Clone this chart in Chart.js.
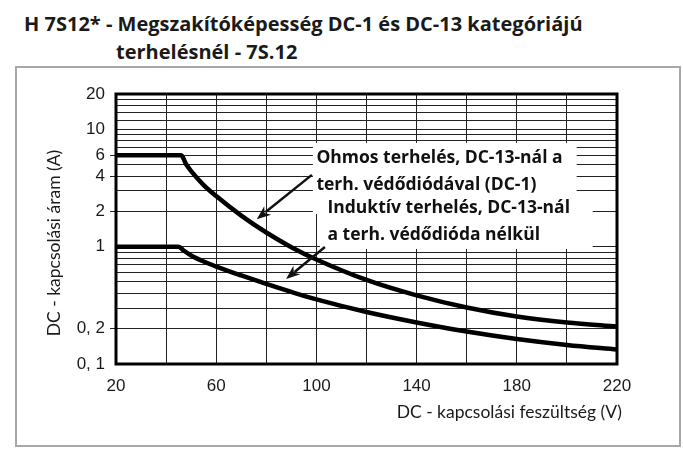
<!DOCTYPE html>
<html><head><meta charset="utf-8">
<script src="https://cdn.jsdelivr.net/npm/chart.js@4.4.1/dist/chart.umd.min.js"></script>
<style>
html,body{margin:0;padding:0;background:#fff;width:683px;height:450px;overflow:hidden}
#frame{position:absolute;left:15px;top:65.5px;width:666px;height:381px;border:2.5px solid #a8a8a8;box-sizing:border-box}
.t{position:absolute;font-family:"Open Sans",Lato,sans-serif;font-weight:700;font-size:20px;line-height:22px;color:#1a1a1a;white-space:nowrap}
#c{position:absolute;left:0;top:0}
</style></head>
<body>
<div class="t" style="left:24px;top:12.6px">H 7S12* - Megszakítóképesség DC-1 és DC-13 kategóriájú</div>
<div class="t" style="left:116px;top:40.9px">terhelésnél - 7S.12</div>
<div id="frame"></div>
<canvas id="c" width="683" height="450"></canvas>
<script>
// ---- data ----
const ohmX = [20, 30, 40, 46, 48, 50, 55, 60, 70, 80, 90, 100, 120, 140, 160, 180, 200, 220];
const ohmY = [6, 6, 6, 6, 5.04, 4.41, 3.35, 2.70, 1.84, 1.32, 0.99, 0.777, 0.52, 0.384, 0.303, 0.254, 0.226, 0.209];
const indX = [20, 30, 40, 45, 47, 50, 55, 60, 70, 80, 90, 100, 120, 140, 160, 180, 200, 220];
const indY = [1, 1, 1, 1, 0.927, 0.841, 0.747, 0.677, 0.568, 0.481, 0.411, 0.355, 0.2775, 0.226, 0.189, 0.1633, 0.1452, 0.1329];

const xLabelValues = [20, 60, 100, 140, 180, 220];
const yGridValues = [0.1,0.2,0.3,0.4,0.5,0.6,0.7,0.8,0.9,1,2,3,4,5,6,7,8,9,10,12,14,16,18,20];
const yLabelValues = [0.1, 0.2, 1, 2, 4, 6, 10, 20];
const yLabelTexts  = ['0, 1', '0, 2', '1', '2', '4', '6', '10', '20'];
const yTickMarkValues = [0.2, 2, 4, 6];

const xTitle = 'DC - kapcsolási feszültség (V)';
const yTitle = 'DC - kapcsolási áram (A)';
const noteOhm = ['Ohmos terhelés, DC-13-nál a', 'terh. védődiódával (DC-1)'];
const noteInd = ['Induktív terhelés, DC-13-nál', 'a terh. védődióda nélkül'];
// annotation anchors in data units
const noteOhmPos = [100, 5.14];
const noteIndPos = [104.4, 1.93];
const boxOhm = [98.6, 7.66, 203.9, 1.90];
const boxInd = [101.4, 2.50, 210.3, 0.956];
const arrowOhm = [98.2, 4.09, 76.2, 1.713];
const arrowInd = [103.4, 0.994, 87.9, 0.53];

const toPts = (xs, ys) => xs.map((x, i) => ({x, y: ys[i]}));
const TXT = '#1a1a1a';

function arrow(ctx, x1, y1, x2, y2) {
  ctx.save();
  ctx.strokeStyle = '#111'; ctx.fillStyle = '#111'; ctx.lineWidth = 2.5;
  const a = Math.atan2(y2 - y1, x2 - x1);
  const L = 14, W = 5.5;
  const bx = x2 - L * Math.cos(a), by = y2 - L * Math.sin(a);
  ctx.beginPath(); ctx.moveTo(x1, y1);
  ctx.lineTo(x2 - (L - 3) * Math.cos(a), y2 - (L - 3) * Math.sin(a)); ctx.stroke();
  ctx.beginPath();
  ctx.moveTo(x2, y2);
  ctx.lineTo(bx + W * Math.sin(a), by - W * Math.cos(a));
  ctx.lineTo(x2 - (L - 4) * Math.cos(a), y2 - (L - 4) * Math.sin(a));
  ctx.lineTo(bx - W * Math.sin(a), by + W * Math.cos(a));
  ctx.closePath(); ctx.fill();
  ctx.restore();
}

const annoPlugin = {
  id: 'anno',
  beforeDatasetsDraw(chart) {
    const {ctx, scales: {x, y}} = chart;
    ctx.save(); ctx.fillStyle = '#fff';
    [boxOhm, boxInd].forEach(b => {
      const l = x.getPixelForValue(b[0]), t = y.getPixelForValue(b[1]);
      const r = x.getPixelForValue(b[2]), bt = y.getPixelForValue(b[3]);
      ctx.fillRect(l, t, r - l, bt - t);
    });
    ctx.restore();
  },
  afterDatasetsDraw(chart) {
    const {ctx, chartArea: ca, scales: {x, y}} = chart;
    ctx.save();
    ctx.strokeStyle = '#000'; ctx.lineWidth = 3;
    ctx.strokeRect(ca.left, ca.top, ca.right - ca.left, ca.bottom - ca.top);
    [arrowOhm, arrowInd].forEach(a => arrow(ctx,
      x.getPixelForValue(a[0]), y.getPixelForValue(a[1]),
      x.getPixelForValue(a[2]), y.getPixelForValue(a[3])));
    ctx.fillStyle = '#111';
    ctx.font = 'bold 17.5px "Open Sans", Lato, sans-serif';
    ctx.textBaseline = 'alphabetic'; ctx.textAlign = 'left';
    [[noteOhm, noteOhmPos], [noteInd, noteIndPos]].forEach(([lines, p]) => {
      const px = x.getPixelForValue(p[0]), py = y.getPixelForValue(p[1]);
      lines.forEach((s, i) => ctx.fillText(s, px, py + i * 26.5));
    });
    // axis titles
    ctx.fillStyle = TXT;
    ctx.font = '17.5px Lato, sans-serif';
    ctx.textAlign = 'right'; ctx.textBaseline = 'middle';
    ctx.fillText(xTitle, ca.right + 5, ca.bottom + 48);
    ctx.translate(ca.left - 62, (ca.top + ca.bottom) / 2 + 14);
    ctx.rotate(-Math.PI / 2);
    ctx.textAlign = 'center';
    ctx.fillText(yTitle, 0, 0);
    ctx.restore();
  }
};

new Chart(document.getElementById('c'), {
  type: 'line',
  data: {
    datasets: [
      {data: toPts(ohmX, ohmY), borderColor: '#000', borderWidth: 4.5, pointRadius: 0, cubicInterpolationMode: 'monotone', fill: false},
      {data: toPts(indX, indY), borderColor: '#000', borderWidth: 4.5, pointRadius: 0, cubicInterpolationMode: 'monotone', fill: false}
    ]
  },
  options: {
    responsive: false, animation: false,
    layout: {padding: {left: 0, top: 94, right: 66, bottom: 0}},
    plugins: {legend: {display: false}, tooltip: {enabled: false}},
    scales: {
      x: {
        type: 'linear', min: 20, max: 220,
        afterFit: s => { s.height = 86; },
        border: {display: false},
        grid: {color: '#222', lineWidth: 1, drawTicks: false},
        ticks: {stepSize: 20, autoSkip: false, maxRotation: 0, padding: 12,
          color: TXT, font: {family: '"Liberation Sans", Arial, sans-serif', size: 17},
          callback: v => xLabelValues.includes(v) ? String(v) : ''}
      },
      y: {
        type: 'logarithmic', min: 0.1, max: 20,
        afterFit: s => { s.width = 116; },
        afterBuildTicks: s => { s.ticks = yGridValues.map(v => ({value: v})); },
        border: {display: false},
        grid: {color: '#222', lineWidth: 1, drawTicks: true, tickLength: 6,
          tickColor: c => (c.tick && yTickMarkValues.includes(c.tick.value)) ? '#222' : 'rgba(0,0,0,0)'},
        ticks: {autoSkip: false, padding: 5, color: TXT,
          font: {family: '"Liberation Sans", Arial, sans-serif', size: 17},
          callback: v => { const i = yLabelValues.indexOf(v); return i >= 0 ? yLabelTexts[i] : ''; }}
      }
    }
  },
  plugins: [annoPlugin]
});
</script>
</body></html>
